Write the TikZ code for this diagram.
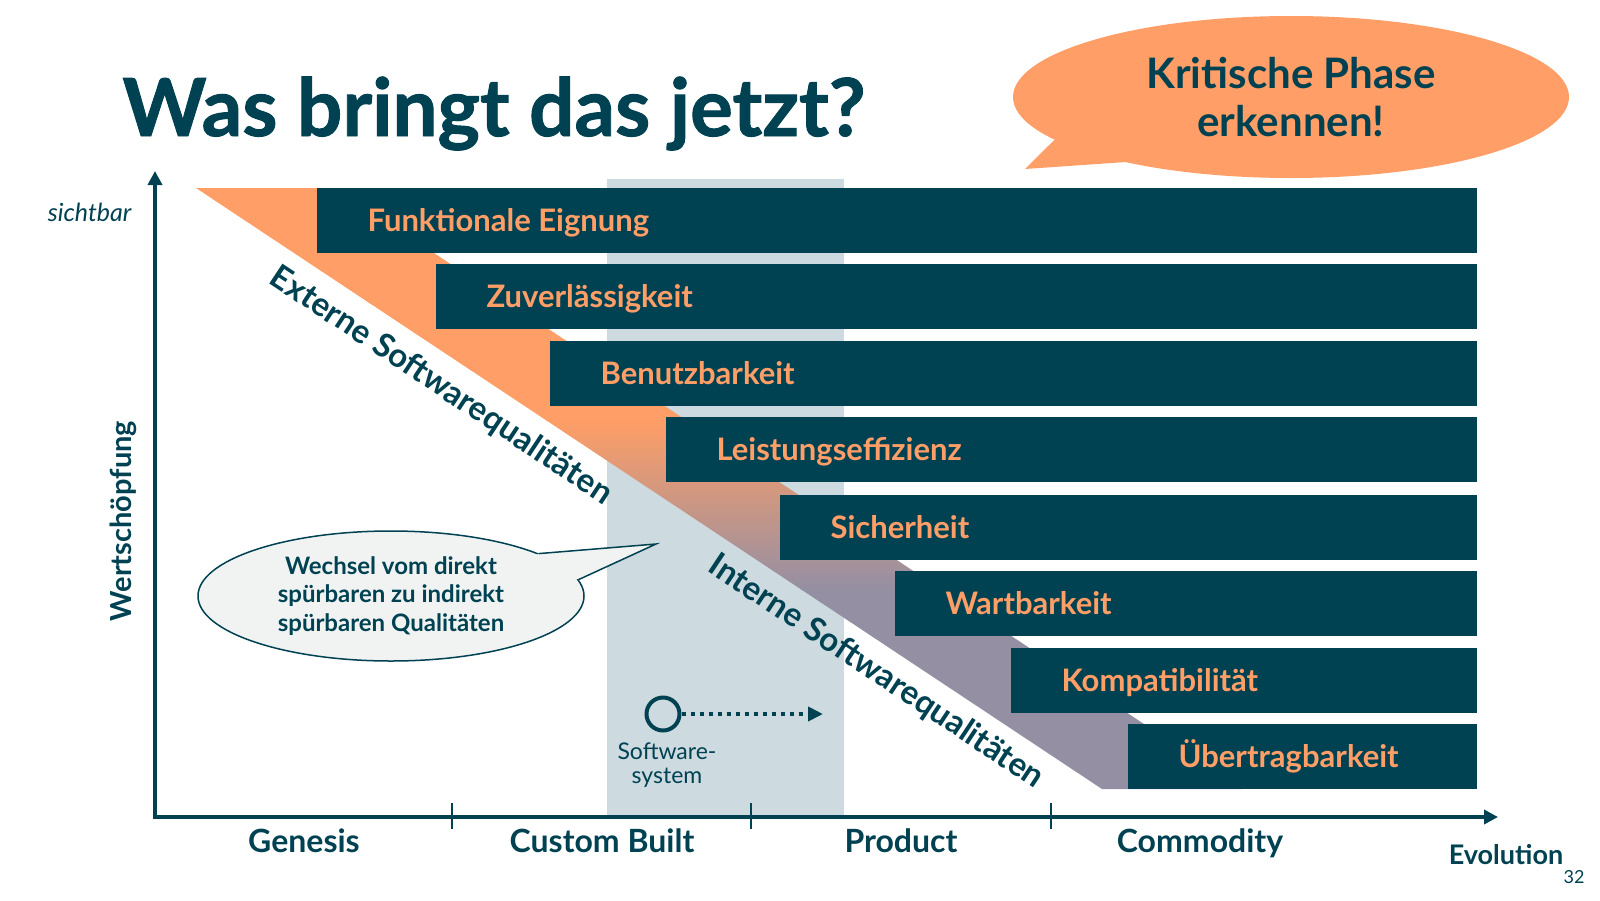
\documentclass[tikz,border=0pt]{standalone}
\usepackage{fontspec}
\setmainfont{Lato}
\newfontfamily\titelfont{Lato}[FakeBold=1.2]
\usepackage{xcolor}
\usepackage{tikz}
\usetikzlibrary{arrows.meta,shapes.geometric,calc}
\definecolor{Petrol}{RGB}{0, 65, 82}
\definecolor{Apricot}{RGB}{255, 158, 102}
\definecolor{Lila}{RGB}{148, 143, 163}
\definecolor{Hellblau}{RGB}{205, 218, 223}
\definecolor{Nebel}{RGB}{240, 243, 242}

\begin{document}
\begin{tikzpicture}[x=1pt,y=-1pt,
    balken/.style={fill=Petrol, minimum height=65pt, inner sep=0pt, anchor=north west},
    etikett/.style={text=Apricot, font=\bfseries\fontsize{31}{36}\selectfont, anchor=base west},
    phase/.style={text=Petrol, font=\bfseries\fontsize{32}{36}\selectfont, anchor=base},
    diag/.style={text=Petrol, font=\bfseries\fontsize{33}{36}\selectfont, rotate=-33.56},
    achse/.style={draw=Petrol, line width=4pt, {Triangle[length=14pt,width=14pt]}-{Triangle[length=14pt,width=14pt]}},
    strich/.style={draw=Petrol, line width=1.5pt}]
    \useasboundingbox (0,0) rectangle (1600,900);
    %Titel
    \node[text=Petrol, font=\titelfont\bfseries\fontsize{80}{90}\selectfont, anchor=base west] (titel) at (119,136) {Was bringt das jetzt?};
    %Kritische Phase
    \node[ellipse, fill=Apricot, minimum width=556pt, minimum height=162pt, inner sep=0pt, align=center, text=Petrol, font=\bfseries\fontsize{42}{48}\selectfont] (kritisch) at (1291,97) {Kritische Phase\\erkennen!};
    \coordinate (zipfel) at (1025,169);
    \fill[Apricot] ($(kritisch.190)!3pt!(kritisch.center)$) -- (zipfel) -- ($(kritisch.202)!3pt!(kritisch.center)$) -- cycle;
    %Spalte und Band
    \fill[Hellblau] (607,179) rectangle (844,817);
    \begin{scope}
        \clip (196,188) -- (336,188) -- (1242,789) -- (1102,789) -- cycle;
        \fill[Apricot] (190,185) rectangle (1250,421);
        \shade[top color=Apricot, bottom color=Lila] (190,420) rectangle (1250,590);
        \fill[Lila] (190,589) rectangle (1250,795);
    \end{scope}
    %Balken
    \node[balken, minimum width=1160pt] (b1) at (317,188) {};
    \node[balken, minimum width=1041pt] (b2) at (436,264) {};
    \node[balken, minimum width=927pt] (b3) at (550,341) {};
    \node[balken, minimum width=811pt] (b4) at (666,417) {};
    \node[balken, minimum width=697pt] (b5) at (780,495) {};
    \node[balken, minimum width=582pt] (b6) at (895,571) {};
    \node[balken, minimum width=466pt] (b7) at (1011,648) {};
    \node[balken, minimum width=349pt] (b8) at (1128,724) {};
    \node[etikett] (fe) at ([xshift=47pt,yshift=-11pt]b1.west) {Funktionale Eignung};
    \node[etikett] (zu) at ([xshift=47pt,yshift=-11pt]b2.west) {Zuverlässigkeit};
    \node[etikett] (be) at ([xshift=47pt,yshift=-11pt]b3.west) {Benutzbarkeit};
    \node[etikett] (le) at ([xshift=47pt,yshift=-11pt]b4.west) {Leistungseffizienz};
    \node[etikett] (si) at ([xshift=47pt,yshift=-11pt]b5.west) {Sicherheit};
    \node[etikett] (wa) at ([xshift=47pt,yshift=-11pt]b6.west) {Wartbarkeit};
    \node[etikett] (ko) at ([xshift=47pt,yshift=-11pt]b7.west) {Kompatibilität};
    \node[etikett] (ue) at ([xshift=47pt,yshift=-11pt]b8.west) {Übertragbarkeit};
    \node[diag] (extern) at (441,386) {Externe Softwarequalitäten};
    \node[diag] (intern) at (876,672) {Interne Softwarequalitäten};
    %Achsen
    \coordinate (O) at (155,817);
    \coordinate (ytip) at (155,171);
    \coordinate (xtip) at (1498,817);
    \draw[achse] (ytip) -- (O) -- (xtip);
    \draw[strich] (452,803) -- (452,829);
    \draw[strich] (751,803) -- (751,829);
    \draw[strich] (1051,803) -- (1051,829);
    \node[phase] (genesis) at (304,852) {Genesis};
    \node[phase] (custom) at (602,852) {Custom Built};
    \node[phase] (product) at (901,852) {Product};
    \node[phase] (commodity) at (1200,852) {Commodity};
    \node[text=Petrol, font=\bfseries\fontsize{27}{30}\selectfont, anchor=base] (evolution) at (1506,864) {Evolution};
    \node[text=Petrol, font=\fontsize{18}{20}\selectfont, anchor=base east] (seite) at (1588,883) {32};
    \node[text=Petrol, font=\bfseries\fontsize{29}{30}\selectfont, anchor=base, rotate=90] (wert) at (131,521) {Wertschöpfung};
    \node[text=Petrol, font=\itshape\fontsize{25}{28}\selectfont, anchor=base east] (sichtbar) at (135,221) {sichtbar};
    %Wechsel
    \node[ellipse, fill=Nebel, draw=Petrol, line width=1.5pt, minimum width=386pt, minimum height=130pt, inner sep=0pt, align=center, text=Petrol, font=\bfseries\fontsize{24}{28.5}\selectfont] (wechsel) at (391,596) {Wechsel vom direkt\\spürbaren zu indirekt\\spürbaren Qualitäten};
    \coordinate (spitze) at (656,544);
    \fill[Nebel] ($(wechsel.16)!3pt!(wechsel.center)$) -- (spitze) -- ($(wechsel.5)!3pt!(wechsel.center)$) -- cycle;
    \draw[Petrol, line width=1.5pt] (wechsel.16) -- (spitze) -- (wechsel.5);
    %Softwaresystem
    \node[circle, draw=Petrol, line width=4pt, minimum size=33pt, inner sep=0pt] (sys) at (663,714) {};
    \coordinate (ziel) at (823,714);
    \draw[Petrol, line width=4.5pt, dash pattern=on 4pt off 5pt, -{Triangle[length=15pt,width=14pt]}] (sys) -- (ziel);
    \node[text=Petrol, font=\fontsize{23}{24}\selectfont, align=center, anchor=base] (systext) at (667,783) {Software-\\system};
\end{tikzpicture}
\end{document}
